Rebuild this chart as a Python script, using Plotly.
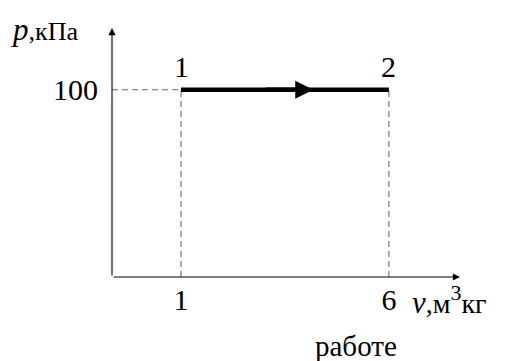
import plotly.graph_objects as go

# Data
v_points = [1, 6]
p_points = [100, 100]
point_labels = ["1", "2"]
x_tick_vals = [1, 6]
x_tick_text = ["1", "6"]
y_tick_vals = [100]
y_tick_text = ["100"]
x_range = [-0.66, 7.71]
y_range = [0, 133]
arrow_at = 4.18

SERIF = "Liberation Serif"
W, H = 508, 361
L, R, T, B = 112, 48, 28, 84
PW, PH = W - L - R, H - T - B


def px(x):
    return (x - L) / PW


def py(y):
    return (H - B - y) / PH


fig = go.Figure()

dash_style = dict(color="#6a6a6a", width=1.1, dash="6px,4px")
for v, p in zip(v_points, p_points):
    fig.add_trace(go.Scatter(x=[v, v], y=[0, p], mode="lines", line=dash_style,
                             hoverinfo="skip", showlegend=False))
fig.add_trace(go.Scatter(x=[x_range[0], v_points[0]], y=[p_points[0], p_points[0]], mode="lines",
                         line=dash_style, hoverinfo="skip", showlegend=False))

# process line
fig.add_trace(go.Scatter(x=v_points, y=p_points, mode="lines",
                         line=dict(color="black", width=4.5),
                         hoverinfo="skip", showlegend=False))

# arrow on the process line
fig.add_annotation(x=arrow_at, y=p_points[0], ax=3.0, ay=p_points[0], xref="x", yref="y",
                   axref="x", ayref="y", text="", showarrow=True, arrowhead=2,
                   arrowsize=0.8, arrowwidth=4.5, arrowcolor="black", standoff=0)

# point labels
for v, p, lab in zip(v_points, p_points, point_labels):
    fig.add_annotation(x=v, y=p, xref="x", yref="y", text=lab, showarrow=False,
                       yanchor="middle", yshift=23,
                       font=dict(family=SERIF, size=30, color="black"))

# axes with arrows
fig.add_annotation(x=x_range[1], y=0, ax=x_range[0], ay=0, xref="x", yref="y",
                   axref="x", ayref="y", text="", showarrow=True, arrowhead=2,
                   arrowsize=1.3, arrowwidth=1.1, arrowcolor="black", standoff=0)
fig.add_annotation(x=x_range[0], y=y_range[1], ax=x_range[0], ay=0, xref="x", yref="y",
                   axref="x", ayref="y", text="", showarrow=True, arrowhead=2,
                   arrowsize=1.3, arrowwidth=1.1, arrowcolor="black", standoff=0)

# axis titles
fig.add_annotation(x=px(9), y=py(30), xref="paper", yref="paper", xanchor="left",
                   yanchor="middle", showarrow=False,
                   text="<i>p</i><span style='font-size:26px'>,кПа</span>",
                   font=dict(family=SERIF, size=31, color="black"))
fig.add_annotation(x=px(410), y=py(300), xref="paper", yref="paper", xanchor="left",
                   yanchor="middle", showarrow=False,
                   text=("<i>v</i><span style='font-size:28px'>,м</span>"
                         "<sup><span style='font-size:22px'>3</span></sup>"
                         "<span style='font-size:28px'>кг</span>"),
                   font=dict(family=SERIF, size=31, color="black"))
fig.add_annotation(x=px(356), y=py(346), xref="paper", yref="paper", xanchor="center",
                   yanchor="middle", text="работе", showarrow=False,
                   font=dict(family=SERIF, size=29, color="black"))

fig.update_xaxes(range=x_range, tickvals=x_tick_vals, ticktext=x_tick_text, showgrid=False,
                 zeroline=False, showline=False, ticks="", ticklabelstandoff=2,
                 tickfont=dict(family=SERIF, size=30, color="black"))
fig.update_yaxes(range=y_range, tickvals=y_tick_vals, ticktext=y_tick_text, showgrid=False,
                 zeroline=False, showline=False, ticks="", ticklabelstandoff=13,
                 tickfont=dict(family=SERIF, size=30, color="black"))

fig.update_layout(width=W, height=H, margin=dict(l=L, r=R, t=T, b=B, autoexpand=False),
                  plot_bgcolor="white", paper_bgcolor="white")

fig.write_html("out.html", config={"displayModeBar": False},
               post_script="document.body.style.margin='0';document.body.style.padding='0';")
